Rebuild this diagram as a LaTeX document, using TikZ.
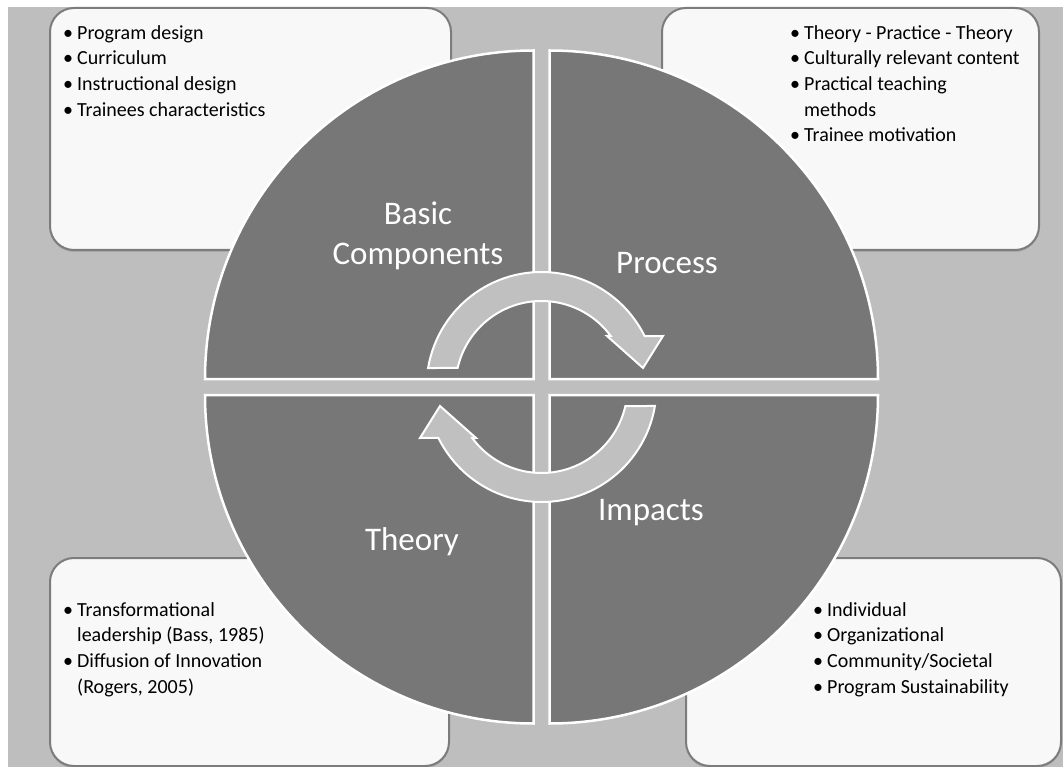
\documentclass[tikz,border=0pt]{standalone}
\usepackage{fontspec}
\setmainfont{Carlito}
\usetikzlibrary{shadows}

\definecolor{bggray}{HTML}{BEBEBE}
\definecolor{boxfill}{HTML}{F8F8F8}
\definecolor{boxline}{HTML}{7C7C7C}
\definecolor{sectorfill}{HTML}{777777}
\definecolor{cyclefill}{HTML}{C0C0C0}

% bullet item with a hanging indent for wrapped lines
\newcommand\bitem[1]{\hangindent=14pt\hangafter=1\noindent\hbox to 14pt{\textbullet\hss}#1\par}

\begin{document}
\begin{tikzpicture}[x=1pt,y=1pt,
  infobox/.style={fill=boxfill, draw=boxline, line width=2pt, rounded corners=24pt,
    anchor=north west, inner sep=0pt,
    drop shadow={shadow xshift=0pt, shadow yshift=-2pt, opacity=0.35}},
  listtext/.style={font=\fontsize{20}{25.7}\selectfont, text width=340pt, align=flush left,
    inner sep=0pt, anchor=north west, text=black},
  sector/.style={fill=sectorfill, draw=white, line width=2.5pt, line join=miter},
  sectorlabel/.style={font=\fontsize{33}{40}\selectfont, text=white, align=center, inner sep=0pt},
  cyclearrow/.style={fill=cyclefill, draw=white, line width=2pt, line join=miter}
]
\useasboundingbox (0,0) rectangle (1063,-767);
\fill[white] (0,0) rectangle (1063,-767);
\fill[bggray] (8,-7) rectangle (1063,-767);

% corner boxes
\node[infobox, minimum width=401pt, minimum height=242pt] (tlbox) at (49,-7) {};
\node[infobox, minimum width=377pt, minimum height=242pt] (trbox) at (661,-7) {};
\node[infobox, minimum width=399pt, minimum height=208pt] (blbox) at (49,-557) {};
\node[infobox, minimum width=375pt, minimum height=208pt] (brbox) at (685,-557) {};

% box texts
\node[listtext] (tltext) at (63,-25) {\bitem{Program design}\bitem{Curriculum}\bitem{Instructional design}\bitem{Trainees characteristics}};
\node[listtext, text width=240pt] (trtext) at (790,-25) {\bitem{Theory - Practice - Theory}\bitem{Culturally relevant content}\bitem{Practical teaching\newline methods}\bitem{Trainee motivation}};
\node[listtext] (bltext) at (63,-602) {\bitem{Transformational\newline leadership (Bass, 1985)}\bitem{Diffusion of Innovation\newline (Rogers, 2005)}};
\node[listtext] (brtext) at (813,-602) {\bitem{Individual}\bitem{Organizational}\bitem{Community/Societal}\bitem{Program Sustainability}};

% four quarter sectors around the centre
\begin{scope}[shift={(541.5,-387)}]
  \def\rad{328.5}
  \filldraw[sector] (-8,8) -- ++(180:\rad) arc[start angle=180, end angle=90, radius=\rad] -- cycle;
  \filldraw[sector] (8,8) -- ++(90:\rad) arc[start angle=90, end angle=0, radius=\rad] -- cycle;
  \filldraw[sector] (8,-8) -- ++(0:\rad) arc[start angle=0, end angle=-90, radius=\rad] -- cycle;
  \filldraw[sector] (-8,-8) -- ++(-90:\rad) arc[start angle=-90, end angle=-180, radius=\rad] -- cycle;
\end{scope}

% sector labels
\node[sectorlabel] (lbasic) at (418,-236) {Basic\\Components};
\node[sectorlabel] (lprocess) at (667,-263) {Process};
\node[sectorlabel] (ltheory) at (412,-542) {Theory};
\node[sectorlabel] (limpacts) at (651,-513) {Impacts};

% circular arrows
\begin{scope}[shift={(541.5,-387)}]
  \filldraw[cyclearrow] (170.5:115) arc[start angle=170.5, end angle=26.3, radius=115]
    -- (121.5,51) -- (101.5,19) -- (65.5,51) -- (36.4:86)
    arc[start angle=36.4, end angle=167.2, radius=86] -- cycle;
  \begin{scope}[rotate=180]
  \filldraw[cyclearrow] (170.5:115) arc[start angle=170.5, end angle=26.3, radius=115]
    -- (121.5,51) -- (101.5,19) -- (65.5,51) -- (36.4:86)
    arc[start angle=36.4, end angle=167.2, radius=86] -- cycle;
  \end{scope}
\end{scope}
\end{tikzpicture}
\end{document}
